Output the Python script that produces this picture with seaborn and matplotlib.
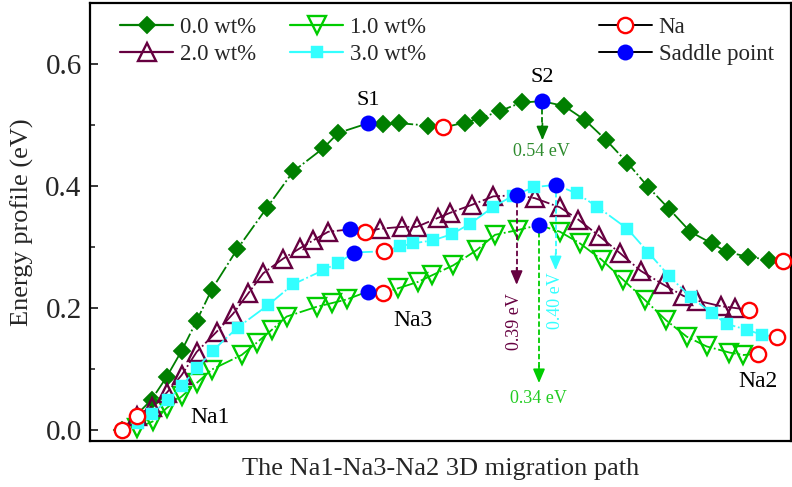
import numpy as np
import pandas as pd
import matplotlib
matplotlib.use("Agg")
import matplotlib.pyplot as plt
import seaborn as sns
from matplotlib.lines import Line2D
from matplotlib.ticker import MultipleLocator, NullLocator

sns.set_theme(style="ticks")
plt.rcParams['font.family'] = ['Liberation Serif', 'DejaVu Serif']

# ---------------- data ----------------
labels = ["0.0 wt%", "1.0 wt%", "2.0 wt%", "3.0 wt%"]
colors = ["#007F00", "#00CC00", "#660040", "#33FFFF"]

x_00 = [0, 2, 3, 4, 5, 6, 7.69, 9.67, 11.44, 13.44, 14.44, 16.44, 17.44, 18.49, 20.44, 21.44,
        22.89, 23.89, 25.22, 26.67, 28.05, 29.51, 30.89, 32.31, 33.72, 35.11, 36.51, 37.91,
        39.33, 40.33, 41.73, 43.17, 44.11]
y_00 = [0.000, 0.050, 0.087, 0.130, 0.179, 0.230, 0.296, 0.364, 0.424, 0.462, 0.487, 0.503,
        0.501, 0.503, 0.499, 0.496, 0.504, 0.511, 0.523, 0.537, 0.539, 0.531, 0.508, 0.475,
        0.438, 0.398, 0.362, 0.325, 0.306, 0.292, 0.284, 0.279, 0.277]
na_00 = [0, 15, 32]
sp_00 = [11, 20]

x_10 = [1, 2.07, 3, 4, 5, 6, 8, 9, 10, 11, 13, 14, 15, 16.4, 17.44, 18.39, 19.77, 20.72, 22.11,
        23.67, 24.89, 26.44, 27.82, 29.22, 30.55, 32, 33.44, 34.89, 36.29, 37.67, 39, 40.51,
        41.44, 42.44]
y_10 = [0.003, 0.014, 0.036, 0.055, 0.077, 0.099, 0.123, 0.143, 0.164, 0.186, 0.202, 0.208,
        0.214, 0.227, 0.225, 0.232, 0.243, 0.254, 0.270, 0.295, 0.320, 0.328, 0.336, 0.325,
        0.306, 0.279, 0.246, 0.213, 0.180, 0.153, 0.137, 0.127, 0.123, 0.125]
na_10 = [14, 33]
sp_10 = [13, 22]

x_20 = [1, 2, 3, 4, 5, 6.33, 7.44, 8.44, 9.44, 10.77, 11.89, 12.77, 13.77, 15.22, 16.22, 17.22,
        18.67, 19.67, 21.11, 21.89, 23.33, 24.77, 26.33, 27.55, 29.22, 30.44, 31.84, 33.22,
        34.6, 36.07, 37.44, 38.37, 39.95, 40.89, 41.84]
y_20 = [0.023, 0.038, 0.061, 0.090, 0.128, 0.161, 0.191, 0.224, 0.257, 0.281, 0.298, 0.311,
        0.325, 0.329, 0.325, 0.330, 0.333, 0.333, 0.348, 0.356, 0.369, 0.383, 0.385, 0.380,
        0.365, 0.345, 0.318, 0.290, 0.261, 0.239, 0.220, 0.212, 0.203, 0.200, 0.197]
na_20 = [0, 14, 34]
sp_20 = [13, 22]

x_30 = [1.11, 2, 3.07, 4, 5, 6.07, 7.73, 9.77, 11.44, 13.44, 14.44, 15.49, 17.49, 18.55, 19.44,
        20.77, 22, 23.22, 24.73, 26.07, 27.49, 28.93, 30.33, 31.71, 33.71, 35.11, 36.51, 37.93,
        39.33, 40.33, 41.71, 42.71, 43.67]
y_30 = [0.012, 0.026, 0.049, 0.072, 0.101, 0.130, 0.168, 0.205, 0.239, 0.262, 0.274, 0.291,
        0.293, 0.301, 0.306, 0.311, 0.321, 0.338, 0.365, 0.384, 0.398, 0.402, 0.388, 0.366,
        0.330, 0.291, 0.252, 0.218, 0.192, 0.174, 0.164, 0.156, 0.153]
na_30 = [12, 32]
sp_30 = [11, 21]

barrier_labels = ["0.54 eV", "0.34 eV", "0.39 eV", "0.40 eV"]
arrow_end = [0.475, 0.077, 0.238, 0.262]

site_labels = ["Na1", "Na3", "Na2", "S1", "S2"]

# ---------------- figure ----------------
fig = plt.figure(figsize=(7.92, 4.87), dpi=100)
ax = fig.add_axes([90 / 792, 1 - 441 / 487, 701 / 792, 438 / 487])

series = [(x_00, y_00, na_00, sp_00, "D", 9.6),
          (x_10, y_10, na_10, sp_10, "v", 13),
          (x_20, y_20, na_20, sp_20, "^", 13),
          (x_30, y_30, na_30, sp_30, "s", 9.0)]
dash = (0, (10, 1.5, 1.0, 1.5))

na_x, na_y, sp_x, sp_y = [], [], [], []
draw_order = [2, 1, 3, 0]
for k in draw_order:
    xs, ys, na, sp, mk, ms = series[k]
    keep = [i for i in range(len(xs)) if (i not in sp and (i not in na or i == 0))]
    filled = mk in ("D", "s")
    df = pd.DataFrame({"x": xs, "y": ys})
    sns.lineplot(data=df, x="x", y="y", ax=ax, color=colors[k], linestyle=dash, lw=1.3,
                 marker=mk, markersize=ms, markevery=keep,
                 markerfacecolor=colors[k] if filled else "none",
                 markeredgecolor=colors[k], markeredgewidth=0.3 if filled else 1.7,
                 estimator=None, sort=False, zorder=3 + k * 0.1)
    na_x += [xs[i] for i in na]
    na_y += [ys[i] for i in na]
    sp_x += [xs[i] for i in sp]
    sp_y += [ys[i] for i in sp]

ax.plot(na_x, na_y, ls="none", marker="o", ms=11, mfc="white", mec="#FF0000", mew=1.7, zorder=6)
ax.plot(sp_x, sp_y, ls="none", marker="o", ms=11.5, mfc="#0000FF", mec="#0000FF", mew=0, zorder=6)

# barrier arrows (from saddle point downwards)
arrow_src = [(x_00, y_00, sp_00[1]), (x_10, y_10, sp_10[1]),
             (x_20, y_20, sp_20[1]), (x_30, y_30, sp_30[1])]
for k, (xs, ys, i) in enumerate(arrow_src):
    x0, y0, y1 = xs[i], ys[i] - 0.012, arrow_end[k]
    ax.plot([x0, x0], [y0, y1 + 0.01], ls=(0, (3, 1.5)), lw=1.3, color=colors[k], zorder=5)
    ax.annotate("", xy=(x0, y1), xytext=(x0, y1 + 0.028),
                arrowprops=dict(arrowstyle="-|>,head_length=0.7,head_width=0.3",
                                color=colors[k], lw=1.2, shrinkA=0, shrinkB=0), zorder=5)

ax.text(28.0, 0.456, barrier_labels[0], color="#2E8B2E", fontsize=13, ha="center", va="center")
ax.text(27.77, 0.052, barrier_labels[1], color="#22CC22", fontsize=13, ha="center", va="center")
ax.text(26.2, 0.177, barrier_labels[2], color=colors[2], fontsize=13, ha="center", va="center",
        rotation=90)
ax.text(28.93, 0.212, barrier_labels[3], color=colors[3], fontsize=13, ha="center", va="center",
        rotation=90)

ax.text(5.9, 0.021, site_labels[0], fontsize=17, ha="center", va="center", color="black")
ax.text(19.4, 0.180, site_labels[1], fontsize=17, ha="center", va="center", color="black")
ax.text(42.44, 0.079, site_labels[2], fontsize=17, ha="center", va="center", color="black")
ax.text(16.44, 0.540, site_labels[3], fontsize=16, ha="center", va="center", color="black")
ax.text(28.05, 0.578, site_labels[4], fontsize=16, ha="center", va="center", color="black")

# axes styling
ax.set_xlim(-2.11, 44.62)
ax.set_ylim(-0.018, 0.70)
ax.xaxis.set_major_locator(NullLocator())
ax.yaxis.set_major_locator(MultipleLocator(0.2))
ax.yaxis.set_minor_locator(MultipleLocator(0.1))
ax.yaxis.set_major_formatter(matplotlib.ticker.FormatStrFormatter("%.1f"))
ax.tick_params(axis="y", which="major", direction="in", length=6, width=1.3, labelsize=21,
               pad=6, right=False)
ax.tick_params(axis="y", which="minor", direction="in", length=3.5, width=1.2, right=False)
for s in ax.spines.values():
    s.set_linewidth(1.6)
    s.set_color("black")
ax.set_xlabel("The Na1-Na3-Na2 3D migration path", fontsize=19, labelpad=12)
ax.set_ylabel("Energy profile (eV)", fontsize=19, labelpad=8)

# legends
h = [Line2D([], [], color=colors[k], marker=series[k][4], ms=series[k][5],
            mfc=colors[k] if series[k][4] in ("D", "s") else "none", mec=colors[k],
            mew=0.3 if series[k][4] in ("D", "s") else 1.7, lw=1.6) for k in range(4)]
leg1 = ax.legend(handles=[h[0], h[2], h[1], h[3]], labels=[labels[0], labels[2], labels[1], labels[3]],
                 ncol=2, loc="upper left", bbox_to_anchor=(0.03, 0.988), frameon=False,
                 fontsize=16.5, handlelength=2.3, handletextpad=0.3, columnspacing=1.5,
                 labelspacing=0.25, borderaxespad=0)
ax.add_artist(leg1)
h_na = Line2D([], [], color="black", marker="o", ms=11, mfc="white", mec="#FF0000", mew=1.7, lw=1.4)
h_sp = Line2D([], [], color="black", marker="o", ms=11.5, mfc="#0000FF", mec="#0000FF", mew=0, lw=1.4)
ax.legend(handles=[h_na, h_sp], labels=["Na", "Saddle point"], loc="upper left",
          bbox_to_anchor=(0.713, 0.988), frameon=False, fontsize=16.5, handlelength=2.3,
          handletextpad=0.3, labelspacing=0.25, borderaxespad=0)

fig.savefig("out.png", dpi=100)
